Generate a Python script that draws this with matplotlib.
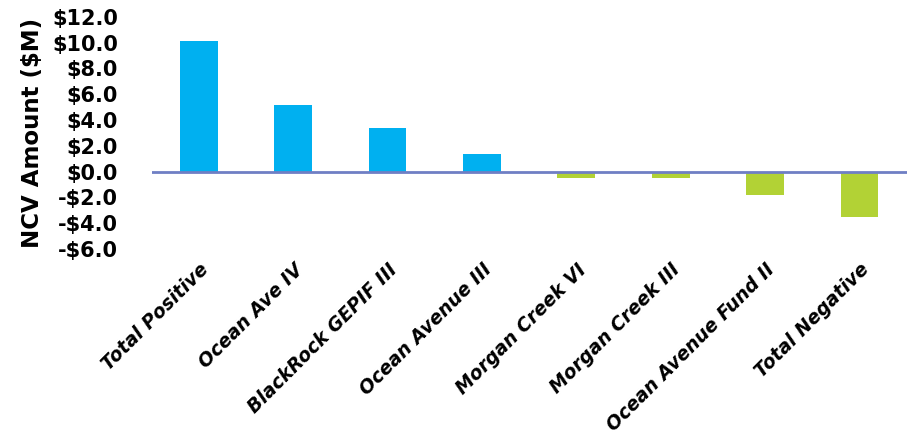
import matplotlib
matplotlib.use('Agg')
import matplotlib.pyplot as plt
from matplotlib.ticker import FuncFormatter

funds = ['Total Positive', 'Ocean Ave IV', 'BlackRock GEPIF III', 'Ocean Avenue III',
         'Morgan Creek VI', 'Morgan Creek III', 'Ocean Avenue Fund II', 'Total Negative']
ncv = [10.1, 5.2, 3.4, 1.4, -0.5, -0.5, -1.8, -3.5]
yticks = [-6, -4, -2, 0, 2, 4, 6, 8, 10, 12]

blue = '#00B0F0'
green = '#B2D235'
colors = [blue if v >= 0 else green for v in ncv]

fig = plt.figure(figsize=(9.13, 4.43), dpi=100)
ax = fig.add_axes([0.166, 0.438, 0.827, 0.524])

x = range(len(funds))
ax.bar(x, ncv, width=0.4, color=colors, zorder=2)
ax.axhline(0, color='#6F7FC4', lw=2, zorder=3)

ax.set_xlim(-0.5, len(funds) - 0.5)
ax.set_ylim(-6, 12)
ax.set_yticks(yticks)

def money(v, pos):
    if v < 0:
        return '-$%.1f' % abs(v)
    return '$%.1f' % v

ax.yaxis.set_major_formatter(FuncFormatter(money))
for lab in ax.get_yticklabels():
    lab.set_fontweight('bold')
    lab.set_fontsize(15)

ax.set_xticks(list(x))
ax.set_xticklabels(funds, rotation=45, ha='right', rotation_mode='anchor',
                   fontsize=13.5, fontweight='bold', style='italic')

ax.tick_params(length=0)
ax.tick_params(axis='y', pad=24)
ax.tick_params(axis='x', pad=8)
for s in ax.spines.values():
    s.set_visible(False)

ax.set_ylabel('NCV Amount ($M)', fontsize=16.5, fontweight='bold', labelpad=6)

fig.savefig('out.png', dpi=100)
